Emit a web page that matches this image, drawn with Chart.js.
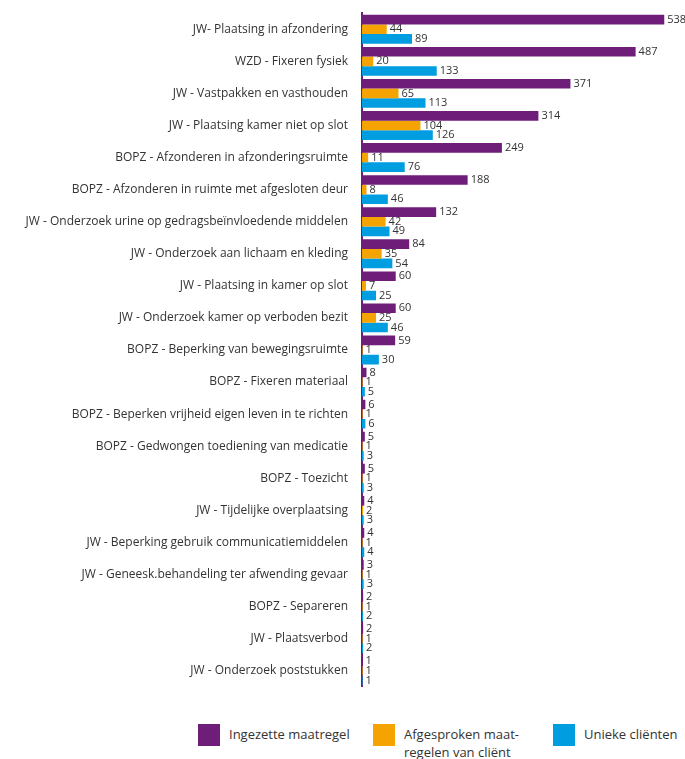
<!DOCTYPE html>
<html>
<head>
<meta charset="utf-8">
<script src="https://cdn.jsdelivr.net/npm/chart.js@4/dist/chart.umd.min.js"></script>
<style>
  body { margin: 0; background: #fff; font-family: "Open Sans", sans-serif; color: #333; }
  #wrap { position: relative; width: 685px; height: 700px; }
  #legend { position: relative; width: 685px; height: 59px; font-size: 13px; }
  .item { position: absolute; top: 24px; display: flex; align-items: flex-start; }
  .box { width: 22px; height: 22px; margin-right: 9px; flex: none; }
  .txt { line-height: 18px; padding-top: 1px; }
</style>
</head>
<body>
<div id="wrap"><canvas id="chart" width="685" height="700"></canvas></div>
<div id="legend">
  <div class="item" style="left:198px"><div class="box" style="background:#6e1e78"></div><div class="txt">Ingezette maatregel</div></div>
  <div class="item" style="left:373px"><div class="box" style="background:#f5a300"></div><div class="txt">Afgesproken maat-<br>regelen van cliënt</div></div>
  <div class="item" style="left:553px"><div class="box" style="background:#009ee0"></div><div class="txt">Unieke cliënten</div></div>
</div>
<script>
const categories = [
    "JW- Plaatsing in afzondering",
    "WZD - Fixeren fysiek",
    "JW - Vastpakken en vasthouden",
    "JW - Plaatsing kamer niet op slot",
    "BOPZ - Afzonderen in afzonderingsruimte",
    "BOPZ - Afzonderen in ruimte met afgesloten deur",
    "JW - Onderzoek urine op gedragsbeïnvloedende middelen",
    "JW - Onderzoek aan lichaam en kleding",
    "JW - Plaatsing in kamer op slot",
    "JW - Onderzoek kamer op verboden bezit",
    "BOPZ - Beperking van bewegingsruimte",
    "BOPZ - Fixeren materiaal",
    "BOPZ - Beperken vrijheid eigen leven in te richten",
    "BOPZ - Gedwongen toediening van medicatie",
    "BOPZ - Toezicht",
    "JW - Tijdelijke overplaatsing",
    "JW - Beperking gebruik communicatiemiddelen",
    "JW - Geneesk.behandeling ter afwending gevaar",
    "BOPZ - Separeren",
    "JW - Plaatsverbod",
    "JW - Onderzoek poststukken"
];
const ingezet = [538, 487, 371, 314, 249, 188, 132, 84, 60, 60, 59, 8, 6, 5, 5, 4, 4, 3, 2, 2, 1];
const afgesproken = [44, 20, 65, 104, 11, 8, 42, 35, 7, 25, 1, 1, 1, 1, 1, 2, 1, 1, 1, 1, 1];
const unieke = [89, 133, 113, 126, 76, 46, 49, 54, 25, 46, 30, 5, 6, 3, 3, 3, 4, 3, 2, 2, 1];

// draws the value at the end of each bar
const valueLabels = {
    id: "valueLabels",
    afterDatasetsDraw(chart) {
        const ctx = chart.ctx;
        ctx.save();
        ctx.font = "11px 'Open Sans'";
        ctx.fillStyle = "#333";
        ctx.textBaseline = "middle";
        chart.data.datasets.forEach((ds, i) => {
            chart.getDatasetMeta(i).data.forEach((bar, j) => {
                ctx.fillText(ds.data[j], bar.x + 3, bar.y);
            });
        });
        ctx.restore();
    }
};

new Chart(document.getElementById("chart"), {
    type: "bar",
    data: {
        labels: categories,
        datasets: [
            { label: "Ingezette maatregel", data: ingezet, backgroundColor: "#6e1e78" },
            { label: "Afgesproken maatregelen van cliënt", data: afgesproken, backgroundColor: "#f5a300" },
            { label: "Unieke cliënten", data: unieke, backgroundColor: "#009ee0" }
        ]
    },
    options: {
        indexAxis: "y",
        responsive: false,
        animation: false,
        layout: { padding: { top: 12, bottom: 5, left: 0, right: 5 } },
        datasets: { bar: { categoryPercentage: 0.9, barPercentage: 1 } },
        plugins: { legend: { display: false }, tooltip: { enabled: false } },
        scales: {
            x: { display: false, min: 0, max: 566 },
            y: {
                grid: { display: false },
                border: { color: "#6e1e78", width: 2 },
                ticks: { color: "#333", font: { family: "Open Sans", size: 12 }, padding: 6 },
                afterFit(scale) { scale.width = 362; }
            }
        }
    },
    plugins: [valueLabels]
});
</script>
</body>
</html>
